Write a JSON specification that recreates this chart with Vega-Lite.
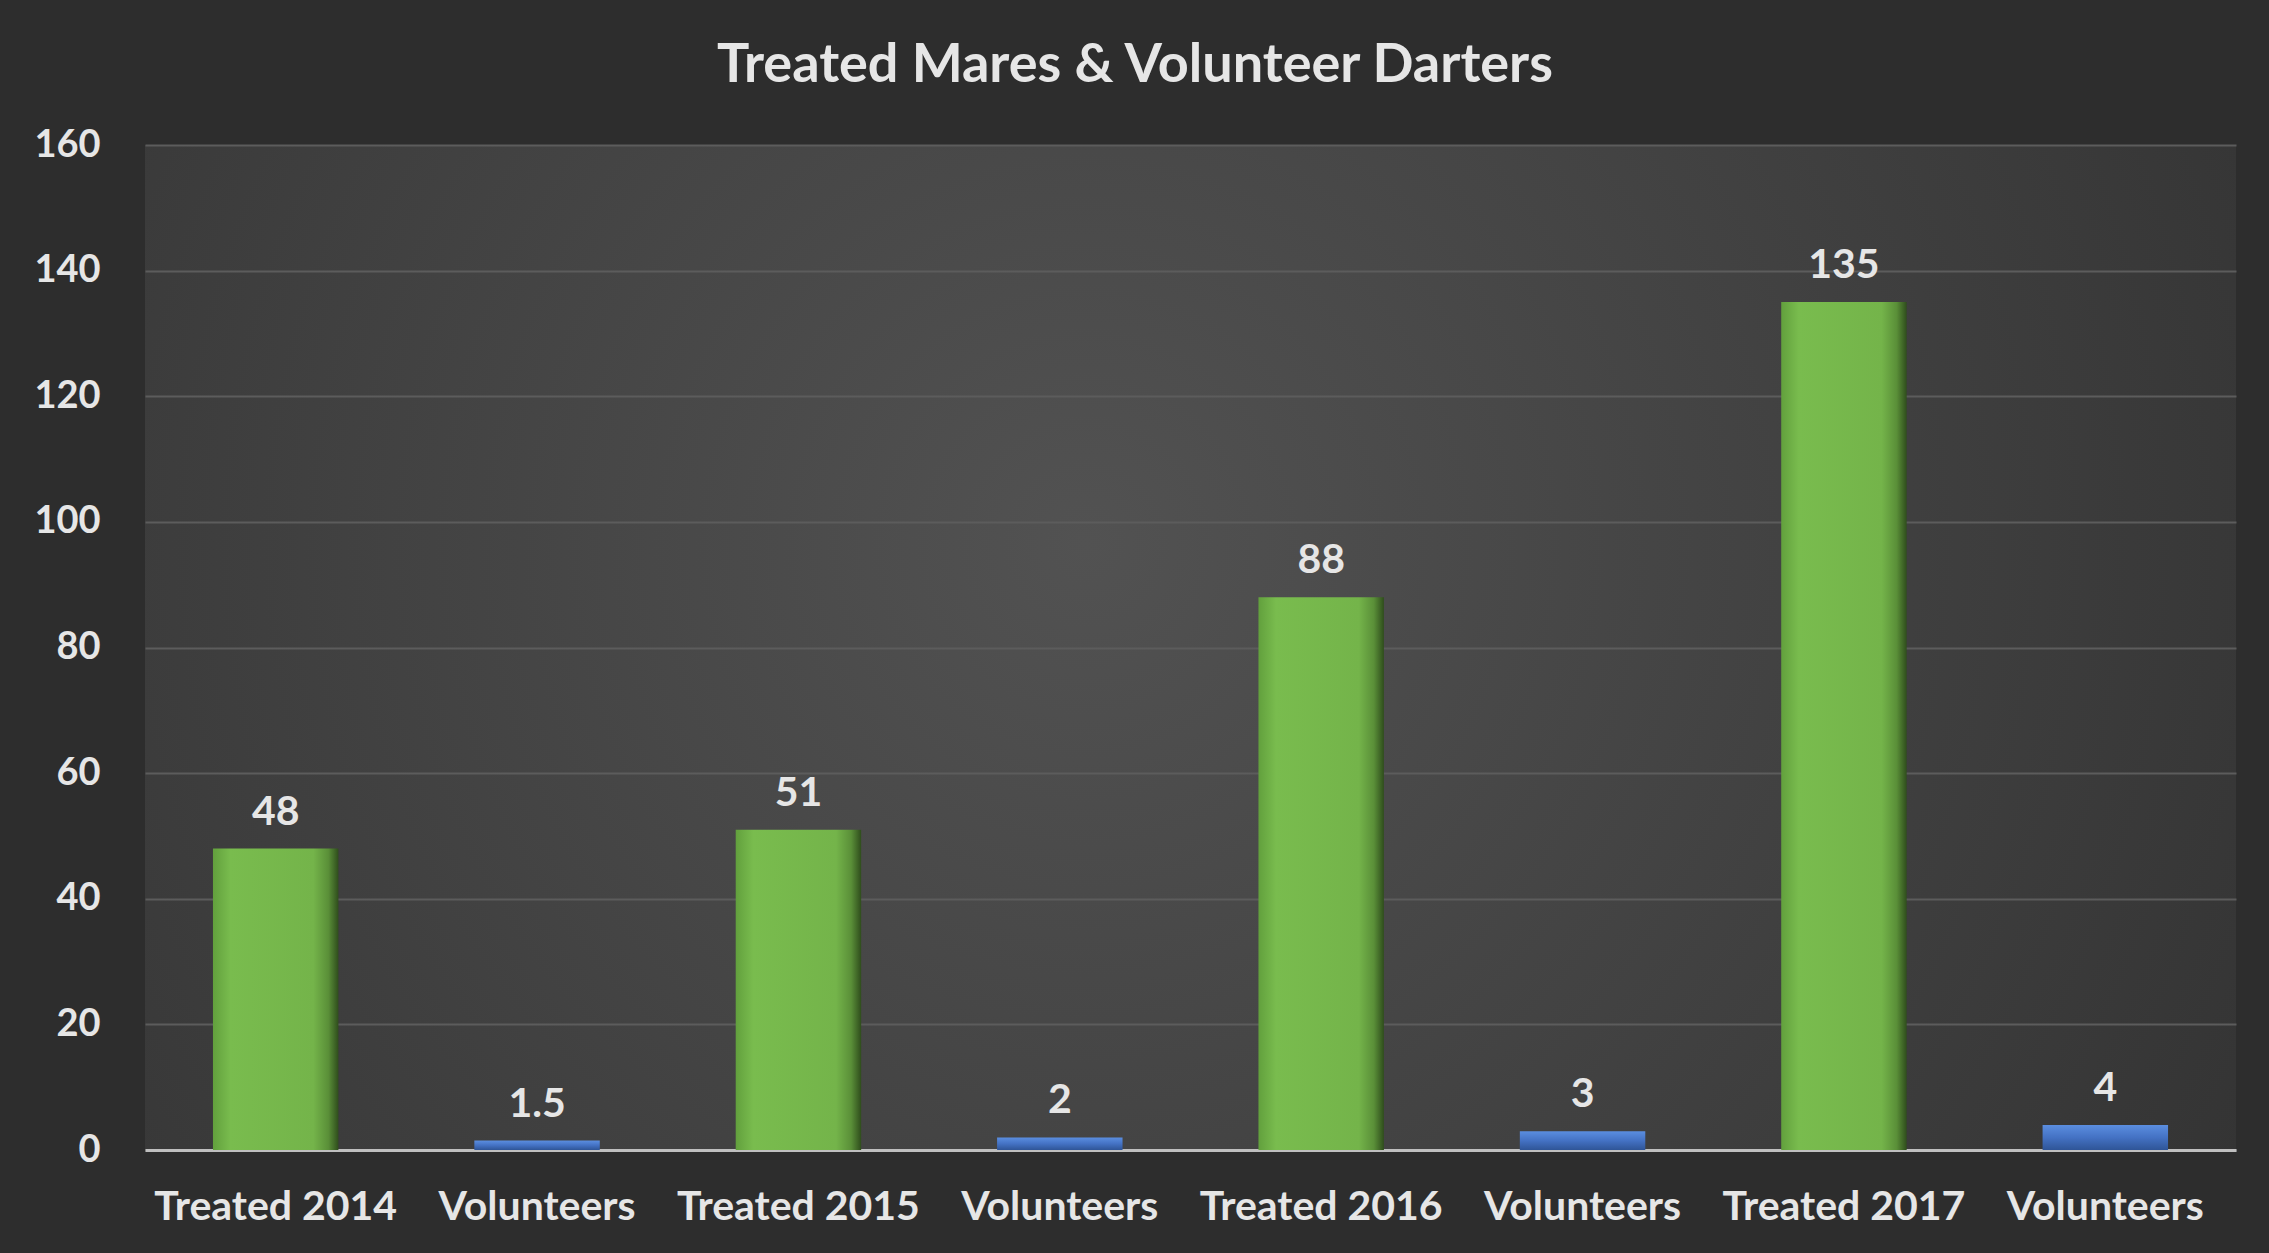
{
  "$schema": "https://vega.github.io/schema/vega-lite/v6.json",
  "autosize": "none",
  "width": 2091,
  "height": 1005,
  "padding": {"left": 145, "top": 145, "right": 33, "bottom": 103},
  "background": "#2d2d2d",
  "config": {
    "view": {"stroke": null, "fill": {"gradient": "radial", "x1": 0.45, "y1": 0.45, "x2": 0.45, "y2": 0.45, "r1": 0, "r2": 0.75, "stops": [{"offset": 0, "color": "#525252"}, {"offset": 1, "color": "#2e2e2e"}]}},
    "font": "Lato"
  },
  "title": {
    "text": "Treated Mares & Volunteer Darters",
    "fontSize": 54,
    "fontWeight": "bold",
    "color": "#e6e6e6",
    "font": "Lato",
    "anchor": "middle",
    "frame": "bounds",
    "offset": 33
  },
  "data": {
    "values": [
      {"cat": "Treated 2014", "type": "Treated", "value": 48, "label": "48"},
      {"cat": "Volunteers 2014", "type": "Volunteers", "value": 1.5, "label": "1.5"},
      {"cat": "Treated 2015", "type": "Treated", "value": 51, "label": "51"},
      {"cat": "Volunteers 2015", "type": "Volunteers", "value": 2, "label": "2"},
      {"cat": "Treated 2016", "type": "Treated", "value": 88, "label": "88"},
      {"cat": "Volunteers 2016", "type": "Volunteers", "value": 3, "label": "3"},
      {"cat": "Treated 2017", "type": "Treated", "value": 135, "label": "135"},
      {"cat": "Volunteers 2017", "type": "Volunteers", "value": 4, "label": "4"}
    ]
  },
  "encoding": {
    "x": {
      "field": "cat",
      "type": "nominal",
      "sort": ["Treated 2014", "Volunteers 2014", "Treated 2015", "Volunteers 2015", "Treated 2016", "Volunteers 2016", "Treated 2017", "Volunteers 2017"],
      "scale": {"paddingInner": 0.52, "paddingOuter": 0.26},
      "axis": {
        "title": null,
        "labelAngle": 0,
        "labelExpr": "indexof(datum.value, 'Volunteers') == 0 ? 'Volunteers' : datum.value",
        "labelFontSize": 41,
        "labelFontWeight": "bold",
        "labelColor": "#e6e6e6",
        "labelFont": "Lato",
        "labelPadding": 37,
        "labelLimit": 0,
        "labelOverlap": false,
        "ticks": false,
        "domainColor": "#bfbfbf",
        "domainWidth": 3,
        "grid": false
      }
    },
    "y": {
      "field": "value",
      "type": "quantitative",
      "scale": {"domain": [0, 160], "nice": false},
      "axis": {
        "title": null,
        "values": [0, 20, 40, 60, 80, 100, 120, 140, 160],
        "labelFontSize": 38,
        "labelFontWeight": "bold",
        "labelColor": "#e6e6e6",
        "labelFont": "Lato",
        "labelPadding": 45,
        "ticks": false,
        "domain": false,
        "gridColor": "#5c5c5c",
        "gridWidth": 2
      }
    }
  },
  "layer": [
    {
      "transform": [{"filter": "datum.type == 'Treated'"}],
      "mark": {
        "type": "bar",
        "color": {"gradient": "linear", "x1": 0, "y1": 0, "x2": 1, "y2": 0, "stops": [
          {"offset": 0, "color": "#62a03d"},
          {"offset": 0.14, "color": "#79bc4e"},
          {"offset": 0.8, "color": "#74b44a"},
          {"offset": 0.92, "color": "#5a8f38"},
          {"offset": 1, "color": "#2f4d1c"}
        ]}
      }
    },
    {
      "transform": [{"filter": "datum.type == 'Volunteers'"}],
      "mark": {
        "type": "bar",
        "color": {"gradient": "linear", "x1": 0, "y1": 0, "x2": 0, "y2": 1, "stops": [
          {"offset": 0, "color": "#5b8ee0"},
          {"offset": 0.5, "color": "#4472c4"},
          {"offset": 1, "color": "#2f5597"}
        ]}
      }
    },
    {
      "mark": {"type": "text", "baseline": "bottom", "dy": -15, "fontSize": 41, "fontWeight": "bold", "color": "#e6e6e6", "font": "Lato"},
      "encoding": {"text": {"field": "label"}}
    }
  ]
}
